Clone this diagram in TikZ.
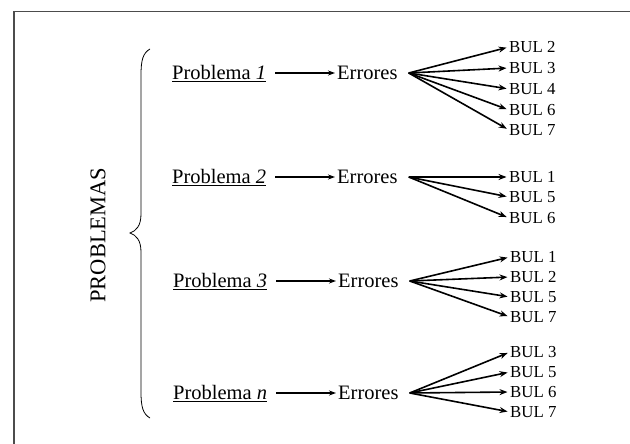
\documentclass[tikz,border=0pt]{standalone}
\usepackage{fontspec}
\setmainfont{Liberation Serif}
\usetikzlibrary{arrows.meta}
\begin{document}
\begin{tikzpicture}[x=1pt,y=-1pt,
  prob/.style={inner sep=0pt, anchor=west, text height=13.2pt, text depth=0pt, font=\fontsize{20.5}{20.5}\selectfont},
  bul/.style={inner sep=0pt, anchor=west, text height=10.9pt, text depth=0pt, font=\fontsize{16.8}{16.8}\selectfont},
  mainarrow/.style={line width=1.3pt, -{Stealth[length=7pt,width=5pt]}, shorten <=9pt, shorten >=2pt},
  fanarrow/.style={line width=1.6pt, -{Stealth[length=8pt,width=6pt]}, shorten >=2.5pt},
  frameline/.style={draw=black!70, line width=1.6pt}]
\useasboundingbox (0,0) rectangle (630,444);
\draw[frameline] (14,444) -- (14,11.5) -- (630,11.5);
% brace
\draw[line width=0.8pt] (150,49) .. controls (143,53) and (141,60) .. (141,75)
  -- (141,214) .. controls (141,226) and (136,231) .. (130,233)
  .. controls (136,235) and (141,240) .. (141,252)
  -- (141,392) .. controls (141,407) and (143,414) .. (150,418);
\node[rotate=90, inner sep=0pt, font=\fontsize{22.5}{22.5}\selectfont] (lab) at (98,235) {PROBLEMAS};
% rows
\node[prob] (p1) at (172,73) {\underline{Problema \textit{1}}};
\node[prob] (p2) at (172,177) {\underline{Problema \textit{2}}};
\node[prob] (p3) at (173,281) {\underline{Problema \textit{3}}};
\node[prob] (pn) at (173,393) {\underline{Problema \textit{n}}};
\node[prob] (e1) at (337,73) {Errores};
\node[prob] (e2) at (337,177) {Errores};
\node[prob] (e3) at (338,281) {Errores};
\node[prob] (en) at (338,393) {Errores};
\foreach \r in {1,2,3,n}{
  \draw[mainarrow] (p\r.east) -- (e\r.west);
  \coordinate (f\r) at ([xshift=11pt]e\r.east);
}
% BUL labels
\node[bul] (b11) at (509,47) {BUL 2};
\node[bul] (b12) at (509,68) {BUL 3};
\node[bul] (b13) at (509,89) {BUL 4};
\node[bul] (b14) at (509,110) {BUL 6};
\node[bul] (b15) at (509,130) {BUL 7};
\node[bul] (b21) at (509,177) {BUL 1};
\node[bul] (b22) at (509,197) {BUL 5};
\node[bul] (b23) at (509,218) {BUL 6};
\node[bul] (b31) at (510,257) {BUL 1};
\node[bul] (b32) at (510,277) {BUL 2};
\node[bul] (b33) at (510,297) {BUL 5};
\node[bul] (b34) at (510,317) {BUL 7};
\node[bul] (b41) at (510,352) {BUL 3};
\node[bul] (b42) at (510,372) {BUL 5};
\node[bul] (b43) at (510,392) {BUL 6};
\node[bul] (b44) at (510,412) {BUL 7};
\foreach \t in {b11,b12,b13,b14,b15}{\draw[fanarrow] (f1) -- (\t.west);}
\foreach \t in {b21,b22,b23}{\draw[fanarrow] (f2) -- (\t.west);}
\foreach \t in {b31,b32,b33,b34}{\draw[fanarrow] (f3) -- (\t.west);}
\foreach \t in {b41,b42,b43,b44}{\draw[fanarrow] (fn) -- (\t.west);}
\end{tikzpicture}
\end{document}
